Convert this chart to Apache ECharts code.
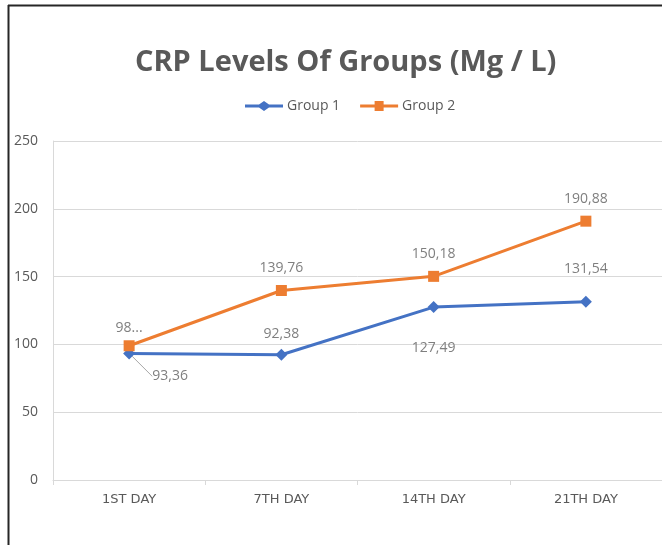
<!DOCTYPE html>
<html>
<head>
<meta charset="utf-8">
<script src="https://cdn.jsdelivr.net/npm/echarts@6/dist/echarts.min.js"></script>
<style>html,body{margin:0;padding:0;background:#fff}#c{width:662px;height:545px}</style>
</head>
<body>
<div id="c"></div>
<script>
const categories = ['1ST DAY', '7TH DAY', '14TH DAY', '21TH DAY'];
const group1 = [93.36, 92.38, 127.49, 131.54];
const group2 = [98.99, 139.76, 150.18, 190.88];
const group2LabelText = ['98...', null, null, null];
const yTicks = [0, 50, 100, 150, 200, 250];

const fmt = v => v.toFixed(2).replace('.', ',');
const chart = echarts.init(document.getElementById('c'));
const grey = '#595959';
const diamondIcon = 'path://M0,3.5 L14,3.5 L19,0 L24,3.5 L38,3.5 L38,6.5 L24,6.5 L19,10 L14,6.5 L0,6.5 Z';
const squareIcon = 'path://M0,3.5 L14.5,3.5 L14.5,0 L23.5,0 L23.5,3.5 L38,3.5 L38,6.5 L23.5,6.5 L23.5,10 L14.5,10 L14.5,6.5 L0,6.5 Z';
chart.setOption({
  animation: false,
  title: {
    text: 'CRP Levels Of Groups (Mg / L)',
    left: 130, top: 43,
    textStyle: { fontFamily: 'Open Sans', fontWeight: 'bold', fontSize: 29, color: grey }
  },
  legend: {
    top: 94, left: 240, itemWidth: 38, itemHeight: 10, itemGap: 20,
    textStyle: { fontFamily: 'Open Sans', fontSize: 14, color: grey, padding: [0, 0, 0, -1] },
    data: [{ name: 'Group 1', icon: diamondIcon }, { name: 'Group 2', icon: squareIcon }]
  },
  grid: { left: 53, right: -3, top: 141, bottom: 65 },
  xAxis: {
    type: 'category', data: categories, boundaryGap: true,
    axisLine: { lineStyle: { color: '#d9d9d9', width: 1 } },
    axisTick: { show: true, length: 5, lineStyle: { color: '#d9d9d9' } },
    axisLabel: { margin: 13, fontFamily: 'DejaVu Sans', fontSize: 13, color: grey }
  },
  yAxis: {
    type: 'value', min: yTicks[0], max: yTicks[yTicks.length - 1], interval: 50,
    axisLine: { show: true, lineStyle: { color: '#d9d9d9' } },
    axisTick: { show: false },
    splitLine: { lineStyle: { color: '#d9d9d9' } },
    axisLabel: { margin: 15, fontFamily: 'Open Sans', fontSize: 14, color: grey }
  },
  graphic: [
    { type: 'line', shape: { x1: 8.5, y1: 5, x2: 8.5, y2: 545 }, style: { stroke: '#262626', lineWidth: 2 } },
    { type: 'line', shape: { x1: 8, y1: 5.5, x2: 662, y2: 5.5 }, style: { stroke: '#262626', lineWidth: 2 } }
  ],
  series: [
    {
      name: 'Group 1', type: 'line',
      data: group1.map((v, i) => i === 0 ? { value: v, labelLine: { show: true } } : v),
      symbol: 'diamond', symbolSize: 12,
      itemStyle: { color: '#4472C4' }, lineStyle: { width: 3, color: '#4472C4' },
      label: {
        show: true, fontFamily: 'Open Sans', fontSize: 14, color: '#7f7f7f', distance: 12,
        formatter: p => fmt(p.value),
        position: 'top'
      },
      labelLine: { show: false, lineStyle: { color: '#a6a6a6', width: 1 } },
      labelLayout: p => {
        if (p.dataIndex === 0) return { dx: 41, dy: 48 };
        if (p.dataIndex === 1) return { dy: 4 };
        if (p.dataIndex === 2) return { dy: 66 };
        if (p.dataIndex === 3) return { dy: -8 };
        return {};
      }
    },
    {
      name: 'Group 2', type: 'line', data: group2,
      symbol: 'rect', symbolSize: 11,
      itemStyle: { color: '#ED7D31' }, lineStyle: { width: 3, color: '#ED7D31' },
      label: {
        show: true, fontFamily: 'Open Sans', fontSize: 14, color: '#7f7f7f', position: 'top', distance: 10,
        formatter: p => group2LabelText[p.dataIndex] || fmt(p.value)
      },
      labelLayout: p => (p.dataIndex === 0 ? { dy: 5 } : {})
    }
  ]
});
</script>
</body>
</html>
